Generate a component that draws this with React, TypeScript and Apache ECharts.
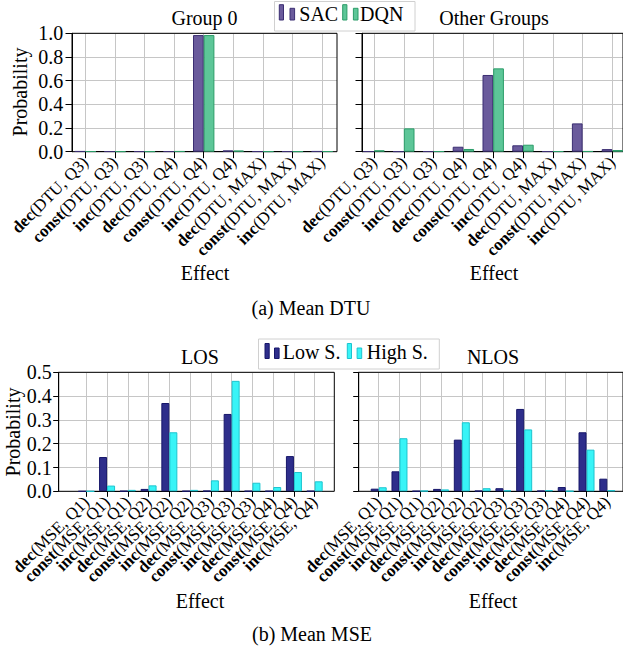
import React, { useEffect, useRef } from 'react';
import * as echarts from 'echarts';

const dtuCategories = [
  'dec(DTU, Q3)', 'const(DTU, Q3)', 'inc(DTU, Q3)',
  'dec(DTU, Q4)', 'const(DTU, Q4)', 'inc(DTU, Q4)',
  'dec(DTU, MAX)', 'const(DTU, MAX)', 'inc(DTU, MAX)',
];
const mseCategories = [
  'dec(MSE, Q1)', 'const(MSE, Q1)', 'inc(MSE, Q1)',
  'dec(MSE, Q2)', 'const(MSE, Q2)', 'inc(MSE, Q2)',
  'dec(MSE, Q3)', 'const(MSE, Q3)', 'inc(MSE, Q3)',
  'dec(MSE, Q4)', 'const(MSE, Q4)', 'inc(MSE, Q4)',
];

const group0SAC = [0.004, 0.003, 0.003, 0.003, 0.985, 0.011, 0.003, 0.003, 0.004];
const group0DQN = [0.003, 0.002, 0.002, 0.004, 0.985, 0.01, 0.002, 0.002, 0.003];
const otherSAC = [0.003, 0.002, 0.003, 0.042, 0.648, 0.054, 0.003, 0.239, 0.022];
const otherDQN = [0.012, 0.197, 0.003, 0.023, 0.704, 0.059, 0.003, 0.004, 0.014];

const losLow = [0, 0.144, 0.001, 0.01, 0.371, 0.001, 0.002, 0.325, 0.001, 0.001, 0.148, 0.001];
const losHigh = [0, 0.024, 0.006, 0.025, 0.248, 0.006, 0.046, 0.464, 0.036, 0.018, 0.081, 0.042];
const nlosLow = [0.011, 0.084, 0.001, 0.01, 0.217, 0.002, 0.013, 0.346, 0.002, 0.018, 0.248, 0.053];
const nlosHigh = [0.017, 0.223, 0.002, 0.008, 0.29, 0.013, 0.004, 0.26, 0.005, 0.001, 0.175, 0.005];

const dtuTicks = [0, 0.2, 0.4, 0.6, 0.8, 1.0];
const mseTicks = [0, 0.1, 0.2, 0.3, 0.4, 0.5];

const FONT = 'Liberation Serif';
const GRID_COLOR = '#c6c6c6';

const colors = {
  sac: { fill: '#6a5b9c', border: '#3b2e72' },
  dqn: { fill: '#5dc698', border: '#2b9c68' },
  low: { fill: '#2e2e8b', border: '#17176a' },
  high: { fill: '#38f4f7', border: '#1cc4cf' },
};

type Panel = {
  frame: { left: number; top: number; width: number; height: number };
  data: { left: number; width: number };
  cats: string[];
  ticks: number[];
  showYLabels: boolean;
  labelMargin: number;
  tickLen: number;
  xFont: number;
  barWidth: number;
  series: { name: string; values: number[]; c: { fill: string; border: string } }[];
};

const panels: Panel[] = [
  {
    frame: { left: 72, top: 33.3, width: 265, height: 118.4 },
    data: { left: 85.3, width: 236.8 },
    cats: dtuCategories, ticks: dtuTicks, showYLabels: true, labelMargin: 8.7, tickLen: 6.5, xFont: 17, barWidth: 10.7,
    series: [
      { name: 'SAC', values: group0SAC, c: colors.sac },
      { name: 'DQN', values: group0DQN, c: colors.dqn },
    ],
  },
  {
    frame: { left: 362, top: 33.3, width: 265, height: 118.4 },
    data: { left: 374, width: 238.4 },
    cats: dtuCategories, ticks: dtuTicks, showYLabels: false, labelMargin: 8.7, tickLen: 6.5, xFont: 17, barWidth: 10.7,
    series: [
      { name: 'SAC', values: otherSAC, c: colors.sac },
      { name: 'DQN', values: otherDQN, c: colors.dqn },
    ],
  },
  {
    frame: { left: 58.7, top: 372.3, width: 275.6, height: 119 },
    data: { left: 86.3, width: 228.4 },
    cats: mseCategories, ticks: mseTicks, showYLabels: true, labelMargin: 7, tickLen: 5.5, xFont: 17, barWidth: 8,
    series: [
      { name: 'Low S.', values: losLow, c: colors.low },
      { name: 'High S.', values: losHigh, c: colors.high },
    ],
  },
  {
    frame: { left: 358.7, top: 372.3, width: 275.6, height: 119 },
    data: { left: 378.7, width: 228.6 },
    cats: mseCategories, ticks: mseTicks, showYLabels: false, labelMargin: 7, tickLen: 5.5, xFont: 17, barWidth: 8,
    series: [
      { name: 'Low S.', values: nlosLow, c: colors.low },
      { name: 'High S.', values: nlosHigh, c: colors.high },
    ],
  },
];

function text(t: string, x: number, y: number, size = 20, rotation = 0) {
  return {
    type: 'text',
    x, y, rotation,
    style: {
      text: t, fill: '#000', fontSize: size, fontFamily: FONT,
      align: 'center', verticalAlign: 'middle',
      textAlign: 'center', textVerticalAlign: 'middle',
    },
  };
}

function rect(x: number, y: number, w: number, h: number, fill: string, stroke: string) {
  return { type: 'rect', shape: { x, y, width: w, height: h }, style: { fill, stroke, lineWidth: 1 }, z: 10 };
}

function legendItem(x: number, top: number, h1: number, h2: number, off2: number, label: string, c: { fill: string; border: string }, textX: number, textY: number) {
  const base = top + h1;
  return [
    rect(x, top, 4.2, h1, c.fill, c.border),
    rect(x + off2, base - h2, 4.6, h2, c.fill, c.border),
    {
      type: 'text', x: textX, y: textY, z: 10,
      style: { text: label, fill: '#000', fontSize: 20, fontFamily: FONT, align: 'left', verticalAlign: 'middle', textAlign: 'left', textVerticalAlign: 'middle' },
    },
  ];
}

function buildOption() {
  const grid: any[] = [];
  const xAxis: any[] = [];
  const yAxis: any[] = [];
  const series: any[] = [];
  panels.forEach((p, i) => {
    const max = p.ticks[p.ticks.length - 1];
    const interval = p.ticks[1] - p.ticks[0];
    grid.push({ ...p.frame, show: true, borderColor: '#000', borderWidth: 1, backgroundColor: 'transparent', z: 1 });
    grid.push({ left: p.data.left, width: p.data.width, top: p.frame.top, height: p.frame.height });
    xAxis.push({ type: 'value', gridIndex: 2 * i, show: false, min: 0, max: 1 });
    xAxis.push({
      type: 'category', gridIndex: 2 * i + 1, data: p.cats, boundaryGap: false,
      axisLine: { show: true, lineStyle: { color: '#000', width: 1 } },
      axisTick: { show: true, interval: 0, length: p.tickLen, lineStyle: { color: '#000' } },
      splitLine: { show: true, interval: 0, lineStyle: { color: GRID_COLOR, width: 1 } },
      axisLabel: {
        interval: 0, rotate: 45, margin: 8, color: '#000', fontFamily: FONT, fontSize: p.xFont,
        formatter: (v: string) => {
          const k = v.indexOf('(');
          return `{b|${v.slice(0, k)}}{n|${v.slice(k)}}`;
        },
        rich: {
          b: { fontWeight: 'bold', fontFamily: FONT, fontSize: p.xFont, color: '#000' },
          n: { fontFamily: FONT, fontSize: p.xFont, color: '#000' },
        },
      },
    });
    yAxis.push({
      type: 'value', gridIndex: 2 * i, min: 0, max, interval,
      axisLine: { show: true, lineStyle: { color: '#000' } },
      axisTick: { show: true, length: p.tickLen, lineStyle: { color: '#000' } },
      axisLabel: {
        show: p.showYLabels, margin: p.labelMargin, color: '#000', fontFamily: FONT, fontSize: 20,
        formatter: (v: number) => v.toFixed(1),
      },
      splitLine: { show: true, lineStyle: { color: GRID_COLOR, width: 1 } },
    });
    yAxis.push({ type: 'value', gridIndex: 2 * i + 1, min: 0, max, show: false });
    p.series.forEach((s) => {
      series.push({
        type: 'bar', name: s.name, xAxisIndex: 2 * i + 1, yAxisIndex: 2 * i + 1,
        data: s.values, barWidth: p.barWidth, barGap: '0%', clip: false,
        itemStyle: { color: s.c.fill, borderColor: s.c.border, borderWidth: 1 },
        emphasis: { disabled: true },
      });
    });
  });

  const graphic: any[] = [
    text('Group 0', 204.5, 17.5),
    text('Other Groups', 494, 17.5),
    text('LOS', 200, 356.5),
    text('NLOS', 493, 356.5),
    text('Effect', 205, 272.5),
    text('Effect', 494, 272.5),
    text('Effect', 200, 600.5),
    text('Effect', 493, 600.5),
    text('Probability', 19.5, 92, 20, Math.PI / 2),
    text('Probability', 12.5, 432, 20, Math.PI / 2),
    text('(a) Mean DTU', 311, 307.5),
    text('(b) Mean MSE', 312, 634),
    { type: 'rect', shape: { x: 274.5, y: 1.5, width: 140.5, height: 29.5 }, style: { fill: '#fff', stroke: '#d0d0d0', lineWidth: 1 }, z: 9 },
    ...legendItem(279.3, 4.7, 15.3, 11.7, 10.7, 'SAC', colors.sac, 299.3, 13.5),
    ...legendItem(342.7, 4.7, 15.3, 11.7, 10.7, 'DQN', colors.dqn, 360, 13.5),
    { type: 'rect', shape: { x: 258.5, y: 339, width: 180.8, height: 30 }, style: { fill: '#fff', stroke: '#d0d0d0', lineWidth: 1 }, z: 9 },
    ...legendItem(265, 343.5, 15, 10.5, 9.5, 'Low S.', colors.low, 282.7, 351.5),
    ...legendItem(347.3, 343.5, 15, 10.5, 9.8, 'High S.', colors.high, 366.7, 351.5),
  ];

  return { animation: false, backgroundColor: '#fff', grid, xAxis, yAxis, series, graphic };
}

export default function App() {
  const ref = useRef<HTMLDivElement>(null);
  useEffect(() => {
    if (!ref.current) return;
    const chart = echarts.init(ref.current, undefined, { renderer: 'svg' });
    chart.setOption(buildOption() as any);
    return () => chart.dispose();
  }, []);
  return <div ref={ref} style={{ position: 'absolute', left: 0, top: 0, width: 623, height: 652 }} />;
}
